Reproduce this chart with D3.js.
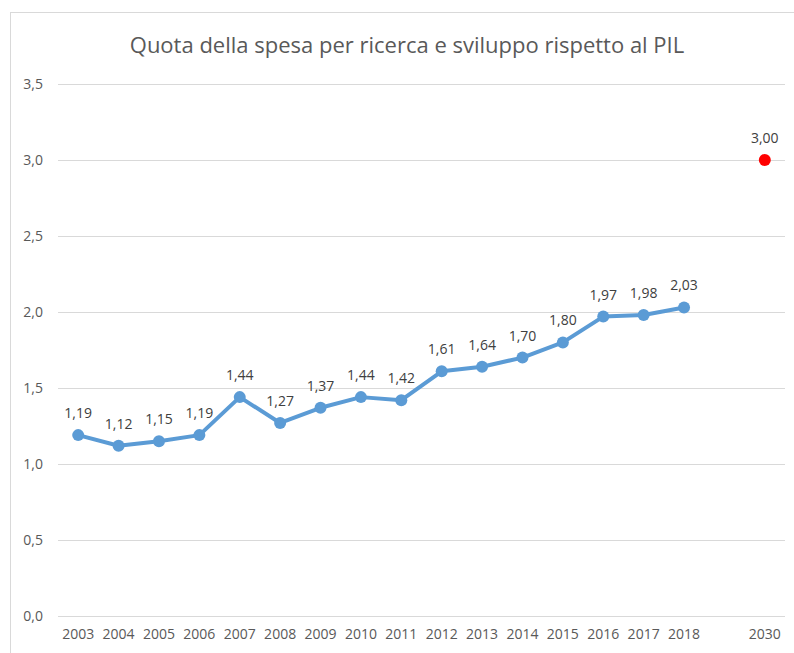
<!DOCTYPE html>
<html>
<head>
<meta charset="utf-8">
<script src="https://cdn.jsdelivr.net/npm/d3@7"></script>
<style>
  body { margin: 0; background: #fff; }
  svg { display: block; font-family: "Open Sans", "Noto Sans", sans-serif; }
</style>
</head>
<body>
<div id="chart"></div>
<script>
// data
var years = ["2003","2004","2005","2006","2007","2008","2009","2010","2011","2012","2013","2014","2015","2016","2017","2018","","2030"];
var values = [1.19,1.12,1.15,1.19,1.44,1.27,1.37,1.44,1.42,1.61,1.64,1.70,1.80,1.97,1.98,2.03];
var targetYear = "2030";
var targetValue = 3.00;
var yTicks = [0,0.5,1,1.5,2,2.5,3,3.5];

var W = 794, H = 653;
var LINE_COLOUR = "#5B9BD5";
var TARGET_COLOUR = "#FF0000";
var TEXT_COLOUR = "#595959";

var fmt1 = function(v) { return d3.format(".1f")(v).replace(".", ","); };
var fmt2 = function(v) { return d3.format(".2f")(v).replace(".", ","); };

var svg = d3.select("#chart").append("svg")
  .attr("width", W)
  .attr("height", H);

// chart frame
svg.append("rect")
  .attr("x", 10.5).attr("y", 12.5)
  .attr("width", W + 10).attr("height", H + 10)
  .attr("fill", "none")
  .attr("stroke", "#d9d9d9");

svg.append("text")
  .attr("x", 407).attr("y", 53)
  .attr("text-anchor", "middle")
  .attr("fill", TEXT_COLOUR)
  .style("font-size", "22px")
  .text("Quota della spesa per ricerca e sviluppo rispetto al PIL");

var x = d3.scaleBand()
  .domain(years)
  .range([58, 785]);

var y = d3.scaleLinear()
  .domain([0, 3.5])
  .range([616, 84]);

// gridlines
svg.append("g")
  .selectAll("line")
  .data(yTicks)
  .enter().append("line")
  .attr("x1", 58).attr("x2", 785)
  .attr("y1", function(d) { return Math.round(y(d)) + 0.5; })
  .attr("y2", function(d) { return Math.round(y(d)) + 0.5; })
  .attr("stroke", "#d9d9d9")
  .attr("stroke-width", 1.2);

// y axis labels
var yAxis = svg.append("g")
  .attr("transform", "translate(58,0)")
  .call(d3.axisLeft(y).tickValues(yTicks).tickFormat(fmt1).tickSize(0).tickPadding(15));
yAxis.select(".domain").remove();
yAxis.selectAll("text")
  .attr("fill", TEXT_COLOUR)
  .style("font-size", "14px")
  .style("font-family", "\"Open Sans\", sans-serif");

// x axis labels
var xAxis = svg.append("g")
  .attr("transform", "translate(0,616)")
  .call(d3.axisBottom(x).tickSize(0).tickPadding(13));
xAxis.select(".domain").remove();
xAxis.selectAll("text")
  .attr("fill", TEXT_COLOUR)
  .style("font-size", "14px")
  .style("font-family", "\"Open Sans\", sans-serif");

var cx = function(d, i) { return x(years[i]) + x.bandwidth() / 2; };

var line = d3.line()
  .x(cx)
  .y(function(d) { return y(d); });

svg.append("path")
  .datum(values)
  .attr("fill", "none")
  .attr("stroke", LINE_COLOUR)
  .attr("stroke-width", 4)
  .attr("stroke-linejoin", "round")
  .attr("d", line);

svg.append("g")
  .selectAll("circle")
  .data(values)
  .enter().append("circle")
  .attr("cx", cx)
  .attr("cy", function(d) { return y(d); })
  .attr("r", 6)
  .attr("fill", LINE_COLOUR);

svg.append("g")
  .selectAll("text")
  .data(values)
  .enter().append("text")
  .attr("x", cx)
  .attr("y", function(d) { return y(d) - 17; })
  .attr("text-anchor", "middle")
  .attr("fill", "#404040")
  .style("font-size", "14px")
  .text(fmt2);

// 2030 target
var tx = x(targetYear) + x.bandwidth() / 2;
svg.append("circle")
  .attr("cx", tx)
  .attr("cy", y(targetValue))
  .attr("r", 6)
  .attr("fill", TARGET_COLOUR);
svg.append("text")
  .attr("x", tx)
  .attr("y", y(targetValue) - 17)
  .attr("text-anchor", "middle")
  .attr("fill", "#404040")
  .style("font-size", "14px")
  .text(fmt2(targetValue));
</script>
</body>
</html>
